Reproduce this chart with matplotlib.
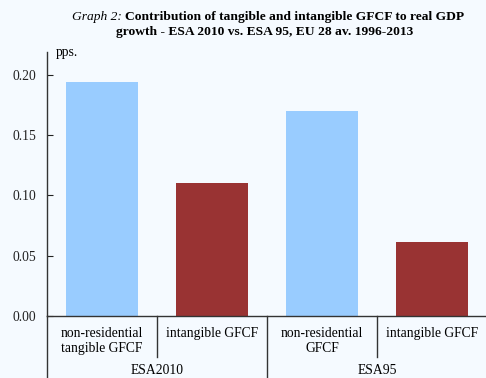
import matplotlib
matplotlib.use("Agg")
import matplotlib.pyplot as plt
from matplotlib.lines import Line2D

# Data
categories = ["non-residential\ntangible GFCF", "intangible GFCF",
              "non-residential\nGFCF", "intangible GFCF"]
groups = ["ESA2010", "ESA95"]
values = [0.194, 0.110, 0.170, 0.061]
bar_colors = ["#99CCFF", "#993333", "#99CCFF", "#993333"]
yticks = [0.00, 0.05, 0.10, 0.15, 0.20]
ytick_labels = ["0.00", "0.05", "0.10", "0.15", "0.20"]

plt.rcParams["font.family"] = ["Liberation Serif", "DejaVu Serif"]
bg = "#F5FAFF"

W, H = 486, 378
fig = plt.figure(figsize=(W / 100, H / 100), dpi=100, facecolor=bg)

x0, x1 = 47, 487
y_zero, y_top = 316, 52
ax = fig.add_axes([x0 / W, (H - y_zero) / H, (x1 - x0) / W, (y_zero - y_top) / H])
ax.set_facecolor(bg)

xs = list(range(len(values)))
ax.bar(xs, values, width=0.65, color=bar_colors, zorder=2)
ax.set_xlim(-0.5, len(values) - 0.5)
ax.set_ylim(0, 0.219)

ax.set_yticks(yticks)
ax.set_yticklabels(ytick_labels, fontsize=9.8)
ax.tick_params(axis="y", direction="in", length=4, width=0.8, pad=8, colors="#222222")
ax.tick_params(axis="x", bottom=False, labelbottom=False)
for s in ["top", "right"]:
    ax.spines[s].set_visible(False)
ax.spines["left"].set_color("#333333")
ax.spines["bottom"].set_color("#333333")
ax.spines["left"].set_linewidth(1.0)
ax.spines["bottom"].set_linewidth(1.0)

ax.text(-0.42, 1.0, "pps.", transform=ax.get_xaxis_transform(), fontsize=9.8,
        ha="left", va="center")

# Category labels and separators below the axis
trans = ax.get_xaxis_transform()
def fy(py):
    return -(py - y_zero) / (y_zero - y_top)

for i, c in enumerate(categories):
    ax.text(i, fy(327), c, transform=trans, ha="center", va="top",
            fontsize=9.8, linespacing=1.2, clip_on=False)
for i, g in enumerate(groups):
    ax.text(2 * i + 0.5, fy(364), g, transform=trans, ha="center", va="top",
            fontsize=9.8, clip_on=False)

line_kw = dict(transform=trans, color="#333333", lw=1.0, clip_on=False)
ax.add_line(Line2D([-0.5, -0.5], [0, fy(378)], **line_kw))
ax.add_line(Line2D([1.5, 1.5], [0, fy(378)], **line_kw))
for xsep in [0.5, 2.5]:
    ax.add_line(Line2D([xsep, xsep], [0, fy(357)], **line_kw))

# Title
fig.text(122 / W, 1 - 17 / H, "Graph 2:", fontsize=9.7, style="italic",
         ha="right", va="center")
fig.text(125 / W, 1 - 17 / H, "Contribution of tangible and intangible GFCF to real GDP",
         fontsize=9.7, weight="bold", ha="left", va="center")
fig.text(265 / W, 1 - 32 / H, "growth - ESA 2010 vs. ESA 95, EU 28 av. 1996-2013",
         fontsize=9.7, weight="bold", ha="center", va="center")

fig.savefig("out.png", dpi=100, facecolor=bg)
